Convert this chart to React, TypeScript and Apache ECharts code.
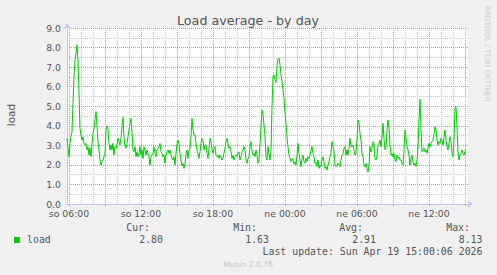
import React, { useEffect, useRef } from "react";
import * as echarts from "echarts";

// Sampling: 5-minute steps starting Saturday 05:50 (minutes since Sat 00:00)
const START_MINUTE = 350;
const STEP_MINUTES = 5;
const SLOT_COUNT = 402;
const DAY_NAMES = ["so", "ne"];

// load values, one per 5-minute slot
const loadPart1 = [
  3.36, 2.90, 2.42, 3.10, 3.44, 3.70, 5.20, 6.50, 7.37, 7.72,
  8.13, 7.37, 5.67, 3.87, 3.53, 3.27, 3.44, 3.10, 3.02, 3.10,
  2.76, 2.93, 2.50, 2.85, 2.42, 3.10, 3.61, 3.87, 4.30, 4.73,
  3.96, 3.19, 2.76, 2.25, 1.99, 2.16, 2.25, 2.42, 2.59, 3.78,
  3.99, 3.82, 3.10, 2.76, 3.02, 2.76, 3.10, 2.50, 2.93, 2.85,
  3.02, 3.36, 3.19, 3.02, 3.36, 3.96, 4.43, 3.44, 2.93, 2.85,
  3.10, 3.44, 3.78, 4.13, 4.38, 3.70, 2.76, 2.67, 2.93, 2.42,
  2.67, 2.42, 2.59, 2.93, 2.50, 2.76, 2.33, 2.93, 2.76, 2.50,
  2.76, 2.59, 2.42, 1.99, 2.45, 2.50, 2.59, 2.93, 2.59, 2.42,
  2.76, 2.85, 2.93, 3.10, 2.67, 2.59, 2.42, 2.50, 2.08, 2.50,
  2.67, 2.76,
];
const loadPart2 = [
  2.59, 2.76, 2.50, 2.33, 2.25, 2.42, 1.99, 2.59, 3.10, 3.27,
  3.02, 2.59, 2.25, 1.94, 2.08, 1.82, 2.08, 2.59, 2.76, 2.33,
  2.76, 2.85, 3.44, 4.38, 3.78, 3.53, 3.53, 3.10, 2.76, 2.59,
  2.33, 2.67, 3.10, 3.36, 3.27, 2.76, 3.02, 3.02, 2.59, 2.33,
  2.85, 3.36, 3.19, 2.76, 2.59, 2.85, 2.93, 2.50, 2.42, 2.50,
  2.33, 2.50, 2.42, 2.25, 2.33, 2.59, 2.85, 3.19, 3.36, 3.10,
  2.85, 2.93, 2.67, 2.33, 2.50, 2.25, 2.42, 2.50, 2.42, 2.59,
  2.67, 2.25, 2.42, 2.67, 2.76, 2.93, 2.76, 2.25, 2.08, 2.33,
  2.42, 2.93, 3.19, 2.76, 2.50, 2.59, 2.42, 2.76, 2.50, 2.08,
  2.25, 3.10, 3.96, 4.81, 4.56, 4.04, 3.44, 2.42, 2.25,
];
const loadPart3 = [
  2.93, 2.59, 2.25, 2.76, 4.98, 6.52, 6.60, 6.35, 6.21, 7.12,
  7.43, 7.46, 7.12, 6.60, 6.26, 5.84, 5.41, 4.64, 4.13, 3.44,
  2.93, 2.50, 2.33, 2.16, 2.33, 2.25, 2.04, 2.16, 1.99, 2.50,
  3.10, 2.59, 2.25, 1.91, 2.33, 2.50, 2.16, 2.08, 2.33, 2.16,
  2.42, 2.33, 2.50, 2.76, 2.93, 2.59, 2.42, 2.08, 2.16, 1.91,
  2.25, 1.82, 1.99, 1.91, 2.25, 2.42, 2.16, 1.82, 1.91, 1.73,
  1.99, 2.16, 2.42, 2.59, 3.19, 2.93, 2.76, 1.99, 1.91, 1.99,
  2.08, 1.99, 1.91, 2.25, 2.50, 2.59, 2.85, 2.93, 2.50, 2.76,
  2.50, 2.85, 3.36, 2.93, 2.93, 3.02, 2.76, 2.50, 2.59, 3.27,
  4.30, 4.13, 3.61, 3.27, 2.59, 2.42, 1.99, 1.91, 2.08, 1.82,
  1.63,
];
const loadPart4 = [
  1.99, 2.93, 2.67, 2.85, 3.19, 3.10, 2.33, 2.25, 2.50, 3.02,
  3.10, 3.27, 2.93, 3.44, 4.13, 3.36, 2.76, 2.85, 3.78, 4.30,
  3.87, 3.02, 2.50, 2.59, 2.42, 2.59, 2.25, 2.16, 2.50, 2.33,
  2.42, 2.25, 2.25, 2.08, 1.99, 2.76, 3.78, 3.44, 2.93, 2.76,
  2.50, 1.99, 2.33, 2.50, 2.16, 1.99, 2.08, 1.91, 2.25, 2.85,
  4.30, 5.35, 3.78, 2.67, 2.76, 2.85, 2.67, 2.76, 2.59, 2.85,
  3.10, 2.93, 3.10, 3.19, 3.27, 3.53, 3.96, 3.78, 3.27, 3.02,
  3.19, 3.10, 3.36, 3.27, 3.02, 3.44, 3.78, 3.27, 2.93, 2.76,
  3.10, 3.44, 3.27, 2.59, 2.42, 3.27, 4.89, 4.98, 3.96, 2.67,
  2.25, 2.50, 2.59, 2.76, 2.59, 2.50, 2.67, 2.80,
];

const legendHeaders = ["Cur:", "Min:", "Avg:", "Max:"];
const legendValues = ["2.80", "1.63", "2.91", "8.13"];
const seriesName = "load";
const lastUpdate = "Last update: Sun Apr 19 15:00:06 2026";

const pad = (n: number) => (n < 10 ? "0" + n : "" + n);
const minuteOf = (i: number) => START_MINUTE + STEP_MINUTES * i;
const categories: string[] = [];
for (let i = 0; i < SLOT_COUNT; i++) {
  const m = minuteOf(i);
  const day = DAY_NAMES[Math.floor(m / 1440)];
  const mm = m % 1440;
  categories.push(`${day} ${pad(Math.floor(mm / 60))}:${pad(mm % 60)}`);
}
const loadValues = [...loadPart1, ...loadPart2, ...loadPart3, ...loadPart4];

const isHour = (i: number) => minuteOf(i) % 60 === 0;
const isMajor = (i: number) => minuteOf(i) % 180 === 0;
const isLabel = (i: number) => minuteOf(i) % 360 === 0;

const AXIS = "#C2C8F2";
const MAJOR = "#E08C8C";
const MINOR = "#C4C4C4";
const TXT = "#555555";
const SANS = "DejaVu Sans";
const MONO = "DejaVu Sans Mono";

const PLOT = { left: 67, top: 28, width: 401, height: 176 };

export default function App() {
  const ref = useRef<HTMLDivElement>(null);
  useEffect(() => {
    document.body.style.margin = "0";
    const chart = echarts.init(ref.current!, null, { renderer: "svg" });
    const headerX = [150, 257, 363, 470];
    const valueX = [163, 269, 376, 482.5];
    const txt = (x: number, y: number, text: string, font: string, fill: string, align: string, extra: any = {}) => ({
      type: "text", x, y, ...extra,
      style: { text, fill, font, textAlign: align, textVerticalAlign: "middle", align, verticalAlign: "middle" },
    });
    const graphics: any[] = [
      {
        type: "rect", z: -10, silent: true,
        shape: { x: PLOT.left, y: PLOT.top, width: PLOT.width, height: PLOT.height },
        style: { fill: "#FFFFFF" },
      },
      txt(248, 20, "Load average - by day", `12.7px "${SANS}"`, TXT, "center"),
      txt(11, 115, "load", `10.5px "${SANS}"`, TXT, "center", { rotation: Math.PI / 2 }),
      txt(487.5, 53.5, "RRDTOOL / TOBI OETIKER", `7.5px "${SANS}"`, "#CDCDCD", "center", { rotation: -Math.PI / 2 }),
      { type: "rect", shape: { x: 14, y: 237, width: 6, height: 6 }, style: { fill: "#00CC00" } },
      txt(27, 239.7, seriesName, `9.9px "${MONO}"`, TXT, "left"),
      txt(482.5, 251.7, lastUpdate, `9.9px "${MONO}"`, TXT, "right"),
      txt(248, 264, "Munin 2.0.76", `7.6px "${SANS}"`, "#C4C4C4", "center"),
    ];
    legendHeaders.forEach((h, k) => {
      graphics.push(txt(headerX[k], 227.7, h, `9.9px "${MONO}"`, TXT, "right"));
      graphics.push(txt(valueX[k], 239.5, legendValues[k], `9.9px "${MONO}"`, TXT, "right"));
    });

    chart.setOption({
      animation: false,
      backgroundColor: "#F0F0F0",
      grid: { ...PLOT, show: false },
      xAxis: [
        {
          type: "category", data: categories, boundaryGap: false, z: 3,
          axisLine: { show: true, lineStyle: { color: AXIS, width: 1 }, symbol: ["none", "arrow"], symbolSize: [6, 6], symbolOffset: [0, 5] },
          axisTick: { show: true, interval: (i: number) => isMajor(i), length: 2, lineStyle: { color: MAJOR } },
          axisLabel: {
            show: true, interval: (i: number) => isLabel(i), color: TXT, fontFamily: SANS, fontSize: 9.3, margin: 5,
          },
          splitLine: { show: true, interval: (i: number) => isMajor(i), lineStyle: { color: MAJOR, type: [1, 1], width: 1 } },
        },
        {
          type: "category", data: categories, boundaryGap: false, position: "bottom", z: 1,
          axisLine: { show: false }, axisTick: { show: false }, axisLabel: { show: false },
          splitLine: { show: true, interval: (i: number) => isHour(i) && !isMajor(i), lineStyle: { color: MINOR, type: [1, 1], width: 1 } },
        },
      ],
      yAxis: [
        {
          type: "value", min: 0, max: 9, interval: 1, z: 3,
          axisLine: { show: true, lineStyle: { color: AXIS, width: 1 }, symbol: ["none", "arrow"], symbolSize: [6, 6], symbolOffset: [0, 5] },
          axisTick: { show: false },
          axisLabel: { formatter: (v: number) => v.toFixed(1), color: TXT, fontFamily: SANS, fontSize: 9.3, margin: 6 },
          splitLine: { show: true, lineStyle: { color: MAJOR, type: [1, 1], width: 1 } },
        },
        {
          type: "value", min: 0, max: 9, interval: 0.5, position: "left", z: 1,
          axisLine: { show: false }, axisTick: { show: false }, axisLabel: { show: false },
          splitLine: { show: true, lineStyle: { color: MINOR, type: [1, 1], width: 1 } },
        },
      ],
      series: [
        {
          name: seriesName, type: "line", data: loadValues, xAxisIndex: 0, yAxisIndex: 0,
          symbol: "none", lineStyle: { color: "#00CC00", width: 1 }, z: 10,
        },
      ],
      graphic: graphics,
    });
    return () => chart.dispose();
  }, []);
  return <div ref={ref} style={{ position: "absolute", left: 0, top: 0, width: 497, height: 275 }} />;
}
